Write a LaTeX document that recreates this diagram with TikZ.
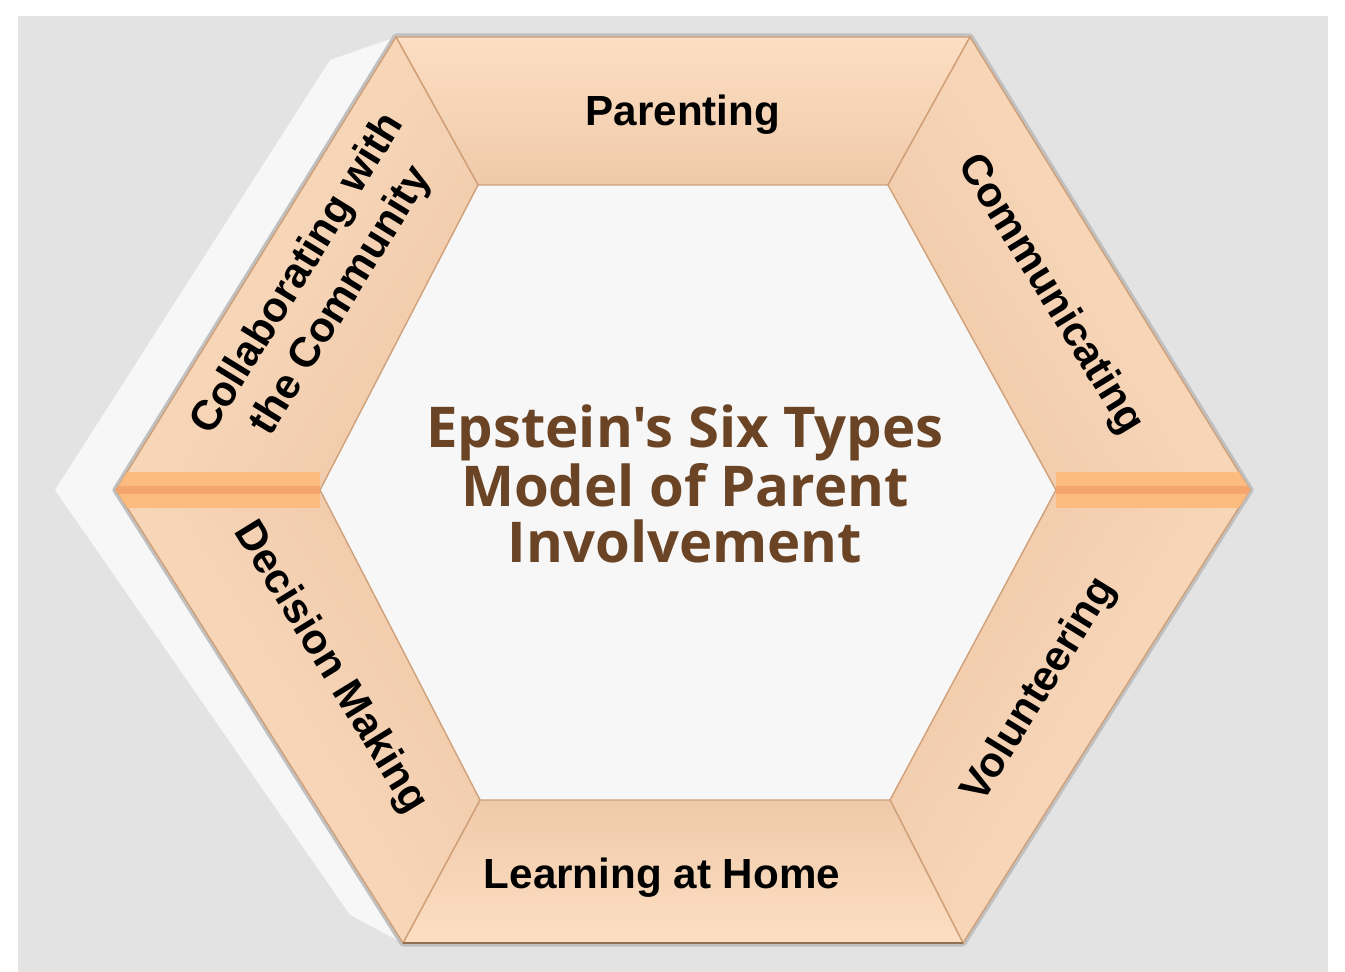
\documentclass[tikz,border=0pt]{standalone}
\usepackage{fontspec}
\setmainfont{Liberation Sans}
\newfontfamily\titlefont{Open Sans}
\usepackage{tikz}
\definecolor{ringlight}{RGB}{253,222,194}
\definecolor{ringdark}{RGB}{239,202,170}
\definecolor{ringline}{RGB}{208,160,120}
\definecolor{ringorange}{RGB}{252,188,128}
\definecolor{ringdeep}{RGB}{245,166,110}
\definecolor{titlebrown}{RGB}{106,68,36}
\definecolor{bggrey}{RGB}{227,227,227}
\definecolor{platewhite}{RGB}{247,247,247}
\definecolor{rimgrey}{RGB}{192,192,192}

\begin{document}
\begin{tikzpicture}[x=0.02cm,y=-0.02cm,
    segment/.style={draw=ringline, line width=0.8pt, top color=ringlight,
        middle color=ringlight, bottom color=ringdark},
    typelabel/.style={font=\fontsize{24}{29}\selectfont\bfseries,
        text=black, align=center, inner sep=0pt}
]
\useasboundingbox (0,0) rectangle (1345,972);
\fill[white] (0,0) rectangle (1345,972);
\fill[bggrey] (18,16) rectangle (1328,972);

% corners of the ring, outer and inner
\coordinate (o1) at (396,37);
\coordinate (o2) at (970,37);
\coordinate (o3) at (1250,490);
\coordinate (o4) at (963,943);
\coordinate (o5) at (403,943);
\coordinate (o6) at (116,490);
\coordinate (i1) at (478,185);
\coordinate (i2) at (888,185);
\coordinate (i3) at (1056,490);
\coordinate (i4) at (890,800);
\coordinate (i5) at (480,800);
\coordinate (i6) at (320,490);

% white plate behind the ring
\fill[platewhite] (330,60) -- (o1) -- (o2) -- (o3) -- (o4) -- (o5)
    -- (350,915) -- (55,490) -- cycle;
\draw[rimgrey, line width=4pt, line join=round]
    (o1) -- (o2) -- (o3) -- (o4) -- (o5) -- (o6) -- cycle;

% the six segments
\path[segment, shading angle=0]      (o1) -- (o2) -- (i2) -- (i1) -- cycle;
\path[segment, shading angle=-58.4]  (o2) -- (o3) -- (i3) -- (i2) -- cycle;
\path[segment, shading angle=-121.6] (o3) -- (o4) -- (i4) -- (i3) -- cycle;
\path[segment, shading angle=180]    (o4) -- (o5) -- (i5) -- (i4) -- cycle;
\path[segment, shading angle=121.6]  (o5) -- (o6) -- (i6) -- (i5) -- cycle;
\path[segment, shading angle=58.4]   (o6) -- (o1) -- (i1) -- (i6) -- cycle;

% orange bands at the side corners
\begin{scope}
    \clip (o1) -- (o2) -- (o3) -- (o4) -- (o5) -- (o6) -- cycle;
    \foreach \o/\i in {o6/i6, o3/i3} {
        \draw[ringorange, line width=20pt] (\o) -- (\i);
        \draw[ringdeep, line width=5pt] (\o) -- (\i);
    }
\end{scope}
\draw[ringline!70!black, line width=1.2pt] (o4) -- (o5);

% labels
\node[typelabel] (parenting) at (683,115) {Parenting};
\node[typelabel, rotate=-58.4] (communicating) at (1050,295) {Communicating};
\node[typelabel, rotate=58.4] (volunteering) at (1040,690) {Volunteering};
\node[typelabel] (learning) at (662,878) {Learning at Home};
\node[typelabel, rotate=-58.4] (decision) at (330,668) {Decision Making};
\node[typelabel, rotate=58.4] (collaborating) at (320,288)
    {Collaborating with\\the Community};

\node[font=\titlefont\fontsize{32}{32}\selectfont\bfseries, text=titlebrown,
    align=center, inner sep=0pt] (title) at (685,484)
    {Epstein's Six Types\\Model of Parent\\Involvement};
\end{tikzpicture}
\end{document}
